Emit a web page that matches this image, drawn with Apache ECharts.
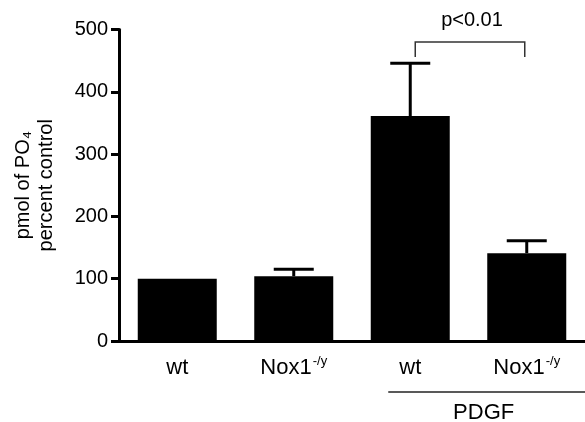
<!DOCTYPE html>
<html>
<head>
<meta charset="utf-8">
<script src="https://cdn.jsdelivr.net/npm/echarts@6/dist/echarts.min.js"></script>
<style>
html,body{margin:0;padding:0;background:#fff;}
#chart{width:585px;height:422px;}
</style>
</head>
<body>
<div id="chart"></div>
<script>
// ---- data ----
const categories = ['wt', 'Nox1', 'wt', 'Nox1'];
const categorySup = ['', '-/y', '', '-/y'];
const meanValues = [100, 104, 361, 141];
const errorUpper = [100, 115, 446, 161];
const yTicks = [0, 100, 200, 300, 400, 500];
const yTitleLines = ['pmol of PO\u2084', 'percent control'];
const groupLabel = 'PDGF';
const groupMembers = [2, 3];
const bracketPair = [2, 3];
const bracketValue = 480;
const bracketText = 'p<0.01';

const FONT = 'Liberation Sans, Arial, Helvetica, sans-serif';
const chart = echarts.init(document.getElementById('chart'), null, {renderer: 'canvas'});

const errData = meanValues.map((v, i) => [i, v, errorUpper[i]]).filter(d => d[2] > d[1]);

const option = {
  animation: false,
  backgroundColor: '#fff',
  grid: {left: 119, right: -2, top: 29.5, bottom: 81, containLabel: false},
  xAxis: {
    type: 'category',
    data: categories.map((c, i) => categorySup[i] ? c + '|' + categorySup[i] : c),
    axisLine: {lineStyle: {color: '#000', width: 3}},
    axisTick: {show: false},
    axisLabel: {
      margin: 14,
      color: '#000',
      fontFamily: FONT,
      formatter: function (v) {
        const p = v.split('|');
        return p.length > 1 ? '{b|' + p[0] + '}{s|' + p[1] + '}' : '{b|' + p[0] + '}';
      },
      rich: {
        b: {fontSize: 22, fontFamily: FONT, color: '#000', lineHeight: 26},
        s: {fontSize: 13, fontFamily: FONT, color: '#000', verticalAlign: 'top', lineHeight: 26, padding: [0, 0, 11, 1]}
      }
    },
    splitLine: {show: false}
  },
  yAxis: {
    type: 'value',
    min: yTicks[0],
    max: yTicks[yTicks.length - 1],
    interval: yTicks[1] - yTicks[0],
    axisLine: {show: true, lineStyle: {color: '#000', width: 3}},
    axisTick: {show: true, length: 8, lineStyle: {color: '#000', width: 3}},
    axisLabel: {fontSize: 20, color: '#000', fontFamily: FONT, margin: 11},
    splitLine: {show: false},
    name: yTitleLines.join('\n'),
    nameLocation: 'middle',
    nameRotate: 90,
    nameGap: 61,
    nameTextStyle: {fontSize: 20, color: '#000', fontFamily: FONT, lineHeight: 23}
  },
  series: [
    {
      type: 'bar',
      data: meanValues,
      barWidth: 79,
      itemStyle: {color: '#000'},
      z: 2
    },
    {
      type: 'custom',
      data: errData,
      z: 3,
      renderItem: function (params, api) {
        const x = api.value(0);
        const lo = api.coord([x, api.value(1)]);
        const hi = api.coord([x, api.value(2)]);
        const half = 20;
        return {
          type: 'group',
          children: [
            {type: 'line', shape: {x1: lo[0], y1: lo[1], x2: hi[0], y2: hi[1]}, style: {stroke: '#000', lineWidth: 3}},
            {type: 'line', shape: {x1: hi[0] - half, y1: hi[1], x2: hi[0] + half, y2: hi[1]}, style: {stroke: '#000', lineWidth: 3}}
          ]
        };
      }
    },
    {
      type: 'custom',
      data: [[bracketPair[0], bracketPair[1], bracketValue]],
      z: 3,
      renderItem: function (params, api) {
        const a = api.coord([api.value(0), api.value(2)]);
        const b = api.coord([api.value(1), api.value(2)]);
        const x1 = a[0] + 5, x2 = b[0] - 2, y = a[1];
        const leg = 15;
        return {
          type: 'group',
          children: [
            {type: 'polyline', shape: {points: [[x1, y + leg], [x1, y], [x2, y], [x2, y + leg]]}, style: {stroke: '#333', lineWidth: 1.5, fill: null}},
            {type: 'text', style: {x: (x1 + x2) / 2 + 2, y: y - 21, text: bracketText, fontSize: 20, fontFamily: FONT, fill: '#000', align: 'center', verticalAlign: 'middle'}}
          ]
        };
      }
    },
    {
      type: 'custom',
      data: [[groupMembers[0], groupMembers[groupMembers.length - 1], 0]],
      z: 3,
      renderItem: function (params, api) {
        const a = api.coord([api.value(0), 0]);
        const b = api.coord([api.value(1), 0]);
        const x1 = a[0] - 22;
        const x2 = api.getWidth();
        const y = a[1] + 51;
        return {
          type: 'group',
          children: [
            {type: 'line', shape: {x1: x1, y1: y, x2: x2, y2: y}, style: {stroke: '#222', lineWidth: 1.5}},
            {type: 'text', style: {x: (x1 + x2) / 2 - 3, y: y + 21, text: groupLabel, fontSize: 22, fontFamily: FONT, fill: '#000', align: 'center', verticalAlign: 'middle'}}
          ]
        };
      }
    }
  ]
};
chart.setOption(option);
</script>
</body>
</html>
